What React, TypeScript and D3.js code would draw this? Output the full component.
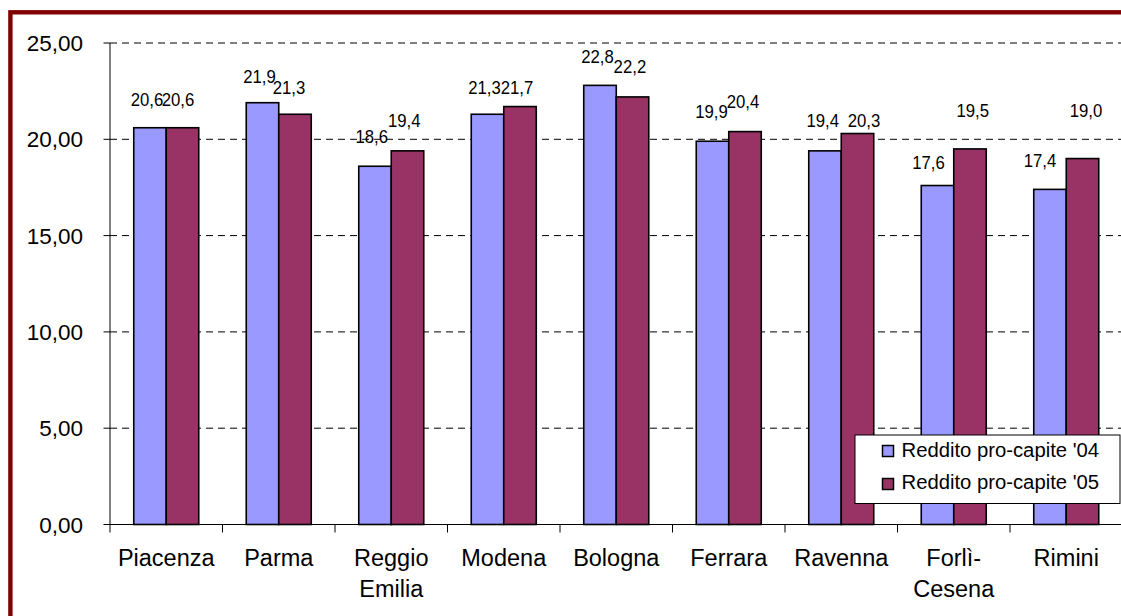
import React from "react";
import * as d3 from "d3";

const categories = ["Piacenza", "Parma", "Reggio Emilia", "Modena", "Bologna", "Ferrara", "Ravenna", "Forlì-Cesena", "Rimini"];
const series = ["Reddito pro-capite '04", "Reddito pro-capite '05"];
const values04 = [20.6, 21.9, 18.6, 21.3, 22.8, 19.9, 19.4, 17.6, 17.4];
const values05 = [20.6, 21.3, 19.4, 21.7, 22.2, 20.4, 20.3, 19.5, 19.0];
const yTicks = [0, 5, 10, 15, 20, 25];
const colors = ["#9999FF", "#993366"];

// manual data-label nudges (px, relative to bar top / bar centre), as placed in the original
const labelDx04 = [-3, -3, -3.3, -3, -2.5, -1, -2.3, -9, -10];
const labelDy04 = [-21.7, -19.7, -23, -20.3, -22.7, -22.9, -24.2, -16.5, -22.7];
const labelDx05 = [-4.5, -6, -3.3, -3, -2.6, -2, 6.5, 2.7, 3.5];
const labelDy05 = [-21.7, -20.3, -24.2, -12.6, -23.6, -23.3, -6.8, -31.6, -41.3];

const W = 1121;
const H = 616;
const FONT = "'Liberation Sans', Arial, sans-serif";

function wrap(name: string): string[] {
  if (name.includes(" ")) return name.split(" ");
  const i = name.indexOf("-");
  if (i >= 0) return [name.slice(0, i + 1), name.slice(i + 1)];
  return [name];
}

const comma = (v: number, d: number) => d3.format(`.${d}f`)(v).replace(".", ",");

export default function App() {
  const y = d3.scaleLinear().domain([0, 25]).range([524.5, 43]);
  const x0 = d3.scaleBand<string>().domain(categories).range([110, 1122.5]).padding(0);
  const bw = x0.bandwidth();
  const barW = 32.5;
  const x1 = d3.scaleBand<string>().domain(series).range([bw / 2 - barW, bw / 2 + barW]).padding(0);
  const data = [values04, values05];
  const ldx = [labelDx04, labelDx05];
  const ldy = [labelDy04, labelDy05];

  return (
    <div style={{ position: "absolute", left: 0, top: 0 }}>
      <svg width={W} height={H} style={{ display: "block", background: "#fff" }}>
        <rect x={0} y={0} width={W} height={H} fill="#fff" />
        {/* gridlines */}
        {yTicks.filter((t) => t > 0).map((t) => (
          <line key={"g" + t} x1={110} x2={1122} y1={y(t)} y2={y(t)} stroke="#000" strokeWidth={1} strokeDasharray="7,5" />
        ))}
        {/* bars */}
        {series.map((s, si) =>
          categories.map((c, ci) => {
            const v = data[si][ci];
            const bx = (x0(c) as number) + (x1(s) as number);
            return (
              <rect key={s + c} x={bx} y={y(v)} width={x1.bandwidth()} height={y(0) - y(v)} fill={colors[si]} stroke="#000" strokeWidth={1.6} />
            );
          })
        )}
        {/* data labels */}
        {series.map((s, si) =>
          categories.map((c, ci) => {
            const v = data[si][ci];
            const cx = (x0(c) as number) + (x1(s) as number) + x1.bandwidth() / 2 + ldx[si][ci];
            const cy = y(v) + ldy[si][ci];
            return (
              <text key={"l" + s + c} transform={`translate(${cx},${cy}) scale(0.93,1)`} textAnchor="middle" fontFamily={FONT} fontSize={18} fill="#000">
                {comma(v, 1)}
              </text>
            );
          })
        )}
        {/* y axis */}
        <line x1={110} x2={110} y1={43} y2={524.5} stroke="#000" strokeWidth={1} />
        {yTicks.map((t) => (
          <g key={"t" + t}>
            <line x1={103.5} x2={110} y1={y(t)} y2={y(t)} stroke="#000" strokeWidth={1} />
            <text x={83} y={y(t)} dy="0.36em" textAnchor="end" fontFamily={FONT} fontSize={22.5} fill="#000">
              {comma(t, 2)}
            </text>
          </g>
        ))}
        {/* x axis */}
        <line x1={110} x2={1122.5} y1={y(0)} y2={y(0)} stroke="#000" strokeWidth={1} />
        {categories.map((c) => (
          <line key={"xt" + c} x1={x0(c) as number} x2={x0(c) as number} y1={y(0)} y2={y(0) + 8} stroke="#000" strokeWidth={1} />
        ))}
        {categories.map((c) => {
          const cx = (x0(c) as number) + bw / 2;
          return (
            <text key={"xl" + c} x={cx} y={566} textAnchor="middle" fontFamily={FONT} fontSize={23.5} fill="#000">
              {wrap(c).map((ln, i) => (
                <tspan key={i} x={cx} dy={i === 0 ? 0 : 30.5}>{ln}</tspan>
              ))}
            </text>
          );
        })}
        {/* legend */}
        <rect x={855} y={435} width={265} height={68.5} fill="#fff" stroke="#000" strokeWidth={1} />
        {series.map((s, si) => (
          <g key={"lg" + s}>
            <rect x={882.5} y={445.5 + si * 33} width={11} height={11} fill={colors[si]} stroke="#000" strokeWidth={1.5} />
            <text transform={`translate(901.5,${456.5 + si * 32.5}) scale(1.04,1)`} fontFamily={FONT} fontSize={19.5} fill="#000">
              {s}
            </text>
          </g>
        ))}
        {/* border */}
        <rect x={10.4} y={12.3} width={1200} height={700} fill="none" stroke="#800000" strokeWidth={4.4} />
      </svg>
    </div>
  );
}
